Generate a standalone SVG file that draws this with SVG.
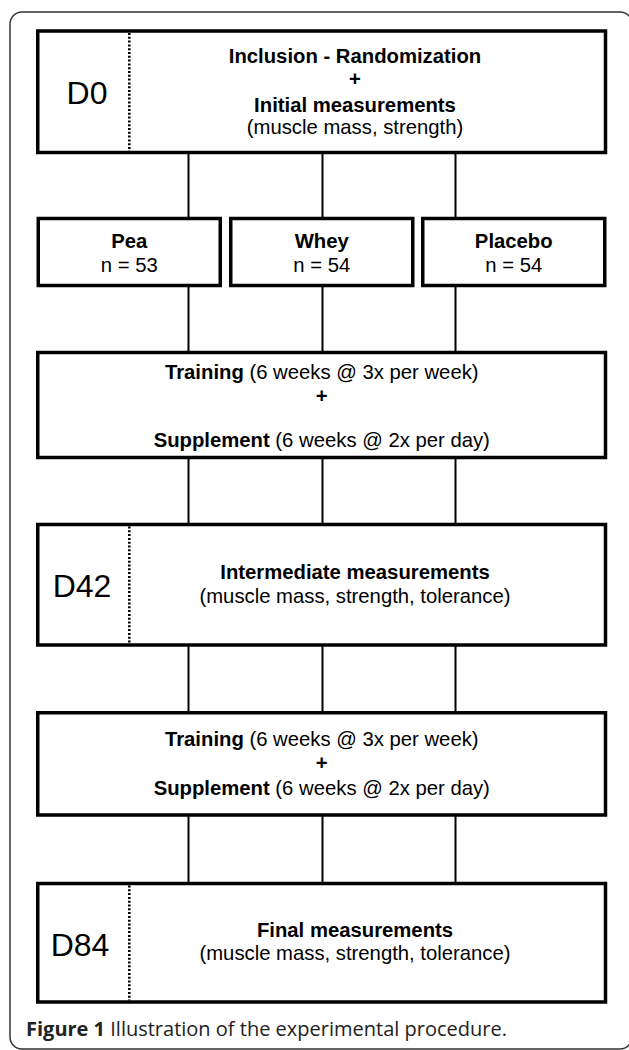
<svg xmlns="http://www.w3.org/2000/svg" width="629" height="1050" viewBox="0 0 629 1050">
<style>
.box{fill:#fff;stroke:#000;stroke-width:3.5}
.dot{stroke:#000;stroke-width:2.6;stroke-dasharray:2 1.8}
.conn{stroke:#000;stroke-width:2;fill:none}
.t{font-family:"Liberation Sans",Arial,sans-serif;font-size:20.3px;fill:#000;text-anchor:middle}
.b{font-weight:bold}
.day{font-size:32px}
.cap{font-family:"Open Sans","Noto Sans",sans-serif;font-size:20px;fill:#222}
</style>
<rect x="0" y="0" width="629" height="1050" fill="#fff"/>
<rect id="frame" x="10" y="12" width="622" height="1037" rx="12" fill="none" stroke="#333" stroke-width="1.5"/>
<g id="connectors" class="conn">
<path d="M188.5 152.5V218.5M322.5 152.5V218.5M455.5 152.5V218.5"/>
<path d="M188.5 285.5V352.5M322.5 285.5V352.5M455.5 285.5V352.5"/>
<path d="M188.5 457.5V524.5M322.5 457.5V524.5M455.5 457.5V524.5"/>
<path d="M188.5 645V712.75M322.5 645V712.75M455.5 645V712.75"/>
<path d="M188.5 815V883.5M322.5 815V883.5M455.5 815V883.5"/>
</g>
<g id="d0">
<rect class="box" x="37.75" y="31" width="567.75" height="121.5"/>
<line class="dot" x1="129.3" y1="33" x2="129.3" y2="151"/>
<text class="t day" x="87" y="104">D0</text>
<text class="t b" x="355" y="62.7">Inclusion - Randomization</text>
<text class="t b" x="355" y="86">+</text>
<text class="t b" x="355" y="111.7">Initial measurements</text>
<text class="t" x="355" y="133.5">(muscle mass, strength)</text>
</g>
<g id="pea">
<rect class="box" x="38.25" y="218.5" width="182" height="67"/>
<text class="t b" x="129.25" y="248.3">Pea</text>
<text class="t" x="129.25" y="272">n = 53</text>
</g>
<g id="whey">
<rect class="box" x="230.75" y="218.5" width="182" height="67"/>
<text class="t b" x="321.75" y="248.3">Whey</text>
<text class="t" x="321.75" y="272">n = 54</text>
</g>
<g id="placebo">
<rect class="box" x="422.75" y="218.5" width="182" height="67"/>
<text class="t b" x="513.75" y="248.3">Placebo</text>
<text class="t" x="513.75" y="272">n = 54</text>
</g>
<g id="training1">
<rect class="box" x="37.75" y="352.5" width="567.75" height="105"/>
<text class="t" x="321.75" y="379"><tspan class="b">Training</tspan> (6 weeks @ 3x per week)</text>
<text class="t b" x="321.75" y="403">+</text>
<text class="t" x="321.75" y="446.7"><tspan class="b">Supplement</tspan> (6 weeks @ 2x per day)</text>
</g>
<g id="d42">
<rect class="box" x="37.75" y="524.5" width="567.75" height="120.5"/>
<line class="dot" x1="129.3" y1="526.5" x2="129.3" y2="643.5"/>
<text class="t day" x="82" y="596.7">D42</text>
<text class="t b" x="355" y="579.3">Intermediate measurements</text>
<text class="t" x="355" y="603.3">(muscle mass, strength, tolerance)</text>
</g>
<g id="training2">
<rect class="box" x="37.75" y="712.75" width="567.75" height="102.25"/>
<text class="t" x="321.75" y="746"><tspan class="b">Training</tspan> (6 weeks @ 3x per week)</text>
<text class="t b" x="321.75" y="769.5">+</text>
<text class="t" x="321.75" y="795"><tspan class="b">Supplement</tspan> (6 weeks @ 2x per day)</text>
</g>
<g id="d84">
<rect class="box" x="37.75" y="883.5" width="567.75" height="118.5"/>
<line class="dot" x1="129.3" y1="885.5" x2="129.3" y2="1000.5"/>
<text class="t day" x="80" y="956">D84</text>
<text class="t b" x="355" y="936.7">Final measurements</text>
<text class="t" x="355" y="960">(muscle mass, strength, tolerance)</text>
</g>
<text id="caption" class="cap" x="26" y="1036"><tspan font-weight="bold">Figure 1</tspan> Illustration of the experimental procedure.</text>
</svg>
